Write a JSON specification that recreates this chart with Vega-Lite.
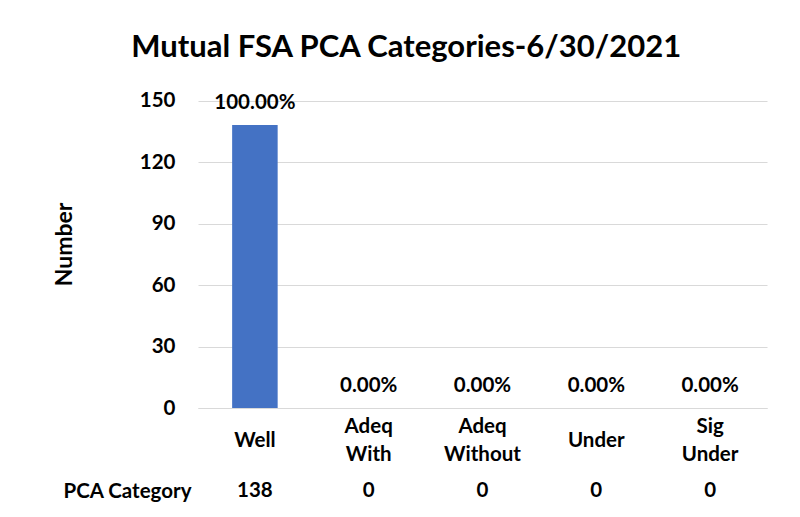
{
  "$schema": "https://vega.github.io/schema/vega-lite/v6.json",
  "autosize": {"type": "pad"},
  "background": "white",
  "padding": {"left": 53, "top": 32, "right": 10, "bottom": 0},
  "title": {"text": "Mutual FSA PCA Categories-6/30/2021", "font": "Lato", "fontSize": 31, "fontWeight": "bold", "color": "#000000", "anchor": "middle", "offset": 16, "dx": -4},
  "datasets": {
    "pca": [
      {"category": "Well", "count": 138, "pct": "100.00%", "row": "PCA Category"},
      {"category": "Adeq With", "count": 0, "pct": "0.00%", "row": "PCA Category"},
      {"category": "Adeq Without", "count": 0, "pct": "0.00%", "row": "PCA Category"},
      {"category": "Under", "count": 0, "pct": "0.00%", "row": "PCA Category"},
      {"category": "Sig Under", "count": 0, "pct": "0.00%", "row": "PCA Category"}
    ]
  },
  "spacing": 12,
  "vconcat": [
    {
      "width": 569,
      "height": 328,
      "data": {"name": "pca"},
      "encoding": {
        "x": {
          "field": "category", "type": "nominal", "sort": null,
          "scale": {"paddingInner": 0.6, "paddingOuter": 0.3},
          "axis": {
            "title": null, "labelAngle": 0, "ticks": false,
            "domainColor": "#d9d9d9", "domainWidth": 1,
            "labelExpr": "split(datum.label, ' ')",
            "labelFont": "Lato", "labelFontSize": 20.5, "labelFontWeight": "bold", "labelColor": "#000000",
            "labelBaseline": "middle", "labelLineHeight": 28,
            "labelPadding": {"condition": {"test": "indexof(datum.value, ' ') < 0", "value": 32}, "value": 18}
          }
        }
      },
      "layer": [
        {
          "mark": {"type": "bar", "color": "#4472C4"},
          "encoding": {
            "y": {
              "field": "count", "type": "quantitative",
              "scale": {"domain": [0, 150]},
              "axis": {
                "values": [0, 30, 60, 90, 120, 150],
                "grid": true, "gridColor": "#d9d9d9", "gridWidth": 1,
                "domain": false, "ticks": false,
                "labelFont": "Lato", "labelFontSize": 20.5, "labelFontWeight": "bold", "labelColor": "#000000", "labelPadding": 23,
                "title": "Number", "titleFont": "Lato", "titleFontSize": 23, "titleFontWeight": "bold", "titleColor": "#000000", "titlePadding": 63
              }
            }
          }
        },
        {
          "mark": {"type": "text", "font": "Lato", "fontSize": 20.5, "fontWeight": "bold", "color": "#000000", "baseline": "middle", "dy": -22},
          "encoding": {
            "y": {"field": "count", "type": "quantitative"},
            "text": {"field": "pct"}
          }
        }
      ]
    },
    {
      "width": 569,
      "height": 28,
      "data": {"name": "pca"},
      "mark": {"type": "text", "font": "Lato", "fontSize": 20.5, "fontWeight": "bold", "color": "#000000"},
      "encoding": {
        "x": {"field": "category", "type": "nominal", "sort": null, "scale": {"paddingInner": 0.6, "paddingOuter": 0.3}, "axis": null},
        "y": {
          "field": "row", "type": "nominal",
          "axis": {"title": null, "domain": false, "ticks": false, "grid": false,
            "labelFont": "Lato", "labelFontSize": 20.5, "labelFontWeight": "bold", "labelColor": "#000000", "labelPadding": 7}
        },
        "text": {"field": "count", "type": "quantitative"}
      }
    }
  ],
  "config": {"view": {"stroke": null}}
}
